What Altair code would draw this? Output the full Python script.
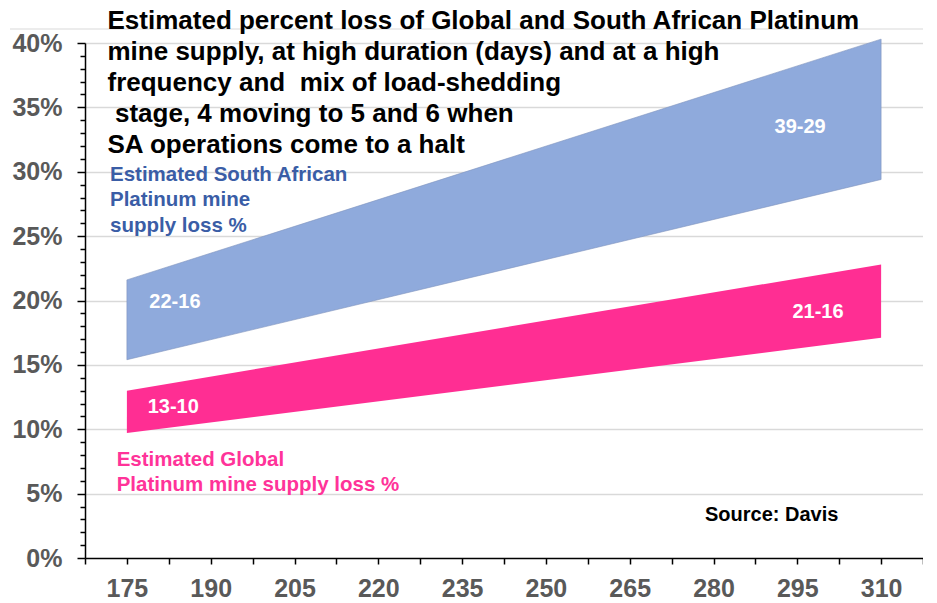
import altair as alt
import pandas as pd

FONT = "Liberation Sans"

# ---- data ----
x_days = [175, 310]
sa_high = [21.6, 40.3]
sa_low = [15.4, 29.4]
glob_high = [13.0, 22.8]
glob_low = [9.7, 17.1]

band_labels = ["22-16", "39-29", "13-10", "21-16"]
band_label_x = [183.6, 295.5, 183.3, 298.7]
band_label_y = [19.9, 33.5, 11.7, 19.1]

x_tick_values = [167.5, 175, 182.5, 190, 197.5, 205, 212.5, 220, 227.5, 235, 242.5,
                 250, 257.5, 265, 272.5, 280, 287.5, 295, 302.5, 310, 317.5]
y_tick_values = list(range(0, 41))

title_lines_top = [
    "Estimated percent loss of Global and South African Platinum",
    "mine supply, at high duration (days) and at a high",
    "frequency and\u00a0 mix of load-shedding",
]
title_line_4 = "stage, 4 moving to 5 and 6 when"
title_line_5 = "SA operations come to a halt"
sa_note = ["Estimated South African", "Platinum mine", "supply loss %"]
global_note = ["Estimated Global", "Platinum mine supply loss %"]
source_note = "Source: Davis"

sa = pd.DataFrame({"days": x_days, "high": sa_high, "low": sa_low})
gl = pd.DataFrame({"days": x_days, "high": glob_high, "low": glob_low})
lab = pd.DataFrame({"days": band_label_x, "pct": band_label_y, "text": band_labels})
one = pd.DataFrame({"k": [0]})

x_scale = alt.Scale(domain=[167.5, 317.5], nice=False, zero=False)
y_scale = alt.Scale(domain=[0, 40], nice=False)

x_axis = alt.Axis(
    values=x_tick_values,
    labelExpr="(datum.value - 175) % 15 == 0 ? datum.value : ''",
    title=None, grid=False, tickSize=6, labelPadding=12,
    labelFontSize=25, labelFont=FONT, labelFontWeight="bold", labelColor="#595959",
    domainColor="black", tickColor="black", domainWidth=1.5, tickWidth=1.5,
    labelFlush=False, labelOverlap=False,
)
y_axis = alt.Axis(
    values=y_tick_values,
    labelExpr="datum.value % 5 == 0 ? datum.value + '%' : ''",
    title=None, grid=True, gridColor="#D9D9D9", gridWidth=1.5,
    gridOpacity={"condition": {"test": "datum.value % 5 == 0 && datum.value > 0", "value": 1}, "value": 0},
    tickSize={"condition": {"test": "datum.value % 5 == 0", "value": 8}, "value": 5},
    labelPadding=15,
    labelFontSize=25, labelFont=FONT, labelFontWeight="bold", labelColor="#595959",
    domainColor="black", tickColor="black", domainWidth=1.5, tickWidth=1.5,
    labelFlush=False, labelOverlap=False,
)


def xq(field):
    return alt.X(field, type="quantitative", scale=x_scale, axis=x_axis, title=None)


def yq(field):
    return alt.Y(field, type="quantitative", scale=y_scale, axis=y_axis, title=None)


sa_area = alt.Chart(sa).mark_area(color="#8FAADC", opacity=1, stroke="#7F93BD", strokeWidth=0.6).encode(
    x=xq("days"), y=yq("high"), y2="low:Q",
)
gl_area = alt.Chart(gl).mark_area(color="#FF2E93", opacity=1).encode(
    x=xq("days"), y=yq("high"), y2="low:Q",
)
labels = alt.Chart(lab).mark_text(
    font=FONT, fontSize=20, fontWeight="bold", color="white", align="center", baseline="middle"
).encode(
    x=xq("days"), y=yq("pct"), text="text:N",
)

frame = alt.Chart(one).mark_rule(color="#D9D9D9", strokeWidth=1.2).encode(
    x=alt.value(-75), x2=alt.value(852), y=alt.value(-14)
)

TITLE_Y = -14.5
TITLE_LH = 31


def title_text(lines, x, y):
    return alt.Chart(one).mark_text(
        font=FONT, fontSize=26, fontWeight="bold", color="black", align="left",
        baseline="alphabetic", lineHeight=TITLE_LH,
    ).encode(x=alt.value(x), y=alt.value(y), text=alt.value(lines))


title_a = title_text(title_lines_top, 22.5, TITLE_Y)
title_b = title_text(title_line_4, 30, TITLE_Y + 3 * TITLE_LH)
title_c = title_text(title_line_5, 22.5, TITLE_Y + 4 * TITLE_LH)

sa_text = alt.Chart(one).mark_text(
    font=FONT, fontSize=20.5, fontWeight="bold", color="#3A5DA6", align="left",
    baseline="alphabetic", lineHeight=25.5,
).encode(x=alt.value(25), y=alt.value(137.5), text=alt.value(sa_note))
gl_text = alt.Chart(one).mark_text(
    font=FONT, fontSize=20.5, fontWeight="bold", color="#FF3399", align="left",
    baseline="alphabetic", lineHeight=24.5,
).encode(x=alt.value(31.7), y=alt.value(423.4), text=alt.value(global_note))
src_text = alt.Chart(one).mark_text(
    font=FONT, fontSize=20, fontWeight="bold", color="black", align="left",
    baseline="alphabetic",
).encode(x=alt.value(620), y=alt.value(477.7), text=alt.value(source_note))

chart = alt.layer(
    frame, sa_area, gl_area, labels, title_a, title_b, title_c, sa_text, gl_text, src_text
).properties(
    width=838, height=515,
    autosize=alt.AutoSizeParams(type="none"),
    padding={"left": 77, "top": 35, "right": 0, "bottom": 47},
).configure_view(stroke=None).configure(background="white")

chart.save("out.html", embed_options={"renderer": "svg", "actions": False})
